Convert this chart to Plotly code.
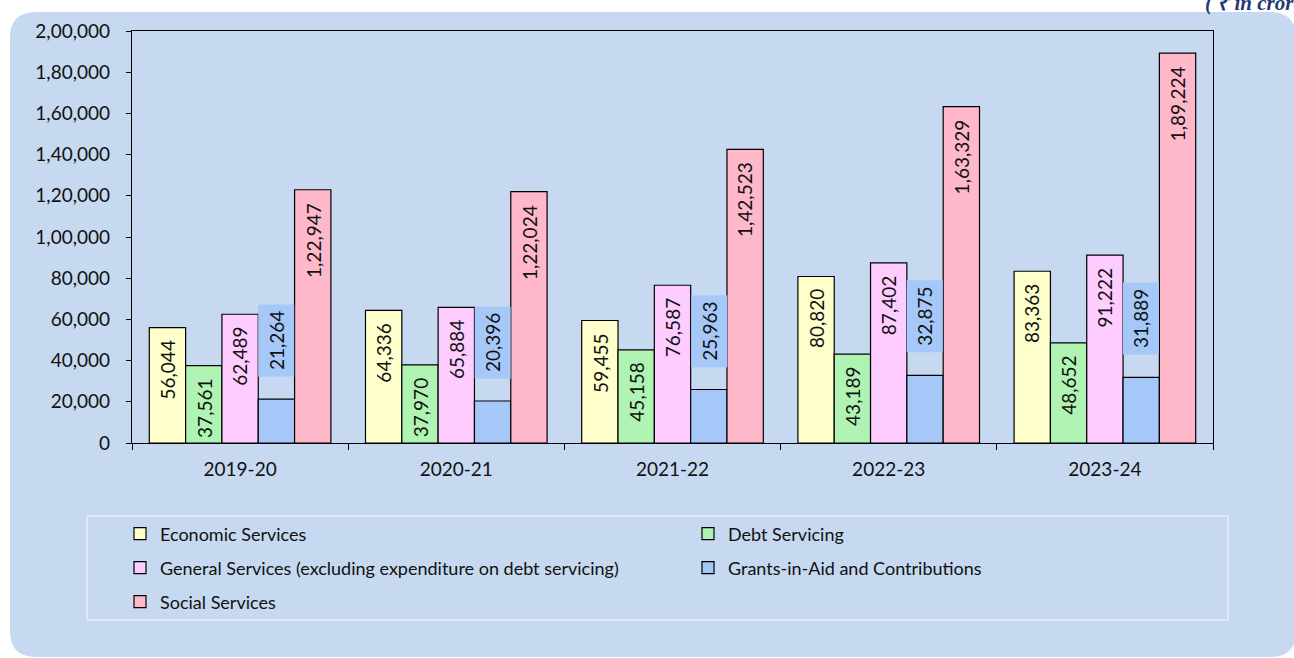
import plotly.graph_objects as go

# ---------------- data ----------------
years = ["2019-20", "2020-21", "2021-22", "2022-23", "2023-24"]
economic = [56044, 64336, 59455, 80820, 83363]
debt = [37561, 37970, 45158, 43189, 48652]
general = [62489, 65884, 76587, 87402, 91222]
grants = [21264, 20396, 25963, 32875, 31889]
social = [122947, 122024, 142523, 163329, 189224]
series_names = [
    "Economic Services",
    "Debt Servicing",
    "General Services (excluding expenditure on debt servicing)",
    "Grants-in-Aid and Contributions",
    "Social Services",
]
y_tick_values = list(range(0, 200001, 20000))
unit_note = "( ₹ in crore)"

# ---------------- styling ----------------
W, H = 1294, 658
L, R, T, B = 132, 1213, 31, 443          # plot area in px
FONT = "Lato"
TXT = "#111111"
PANEL = "#C6D9F0"
colors = ["#FFFFCC", "#B0F4B4", "#FFCCFF", "#A6C8F8", "#FFB8CA"]
BARGAP = 0.16
legend_of = ["legend", "legend", "legend2", "legend2", "legend3"]


def indian(n):
    s = str(int(n))
    if len(s) <= 3:
        return s
    last3, rest = s[-3:], s[:-3]
    parts = []
    while len(rest) > 2:
        parts.insert(0, rest[-2:])
        rest = rest[:-2]
    if rest:
        parts.insert(0, rest)
    return ",".join(parts + [last3])


def xp(px):
    return (px - L) / (R - L)


def yp(py):
    return (B - py) / (B - T)


series = [economic, debt, general, grants, social]

fig = go.Figure()
for k, (name, vals) in enumerate(zip(series_names, series)):
    fig.add_trace(go.Bar(
        x=years, y=vals, name=name,
        marker=dict(color=colors[k], line=dict(color="black", width=1.2)),
        legend=legend_of[k],
        hoverinfo="skip",
    ))

# data labels
annotations = []
nser = len(series)
for k, vals in enumerate(series):
    off = (1 - BARGAP) * (-0.5 + (k + 0.5) / nser)
    for i, v in enumerate(vals):
        if k == 3:
            annotations.append(dict(
                x=i + off, y=v, xref="x", yref="y", text=indian(v),
                showarrow=False, textangle=-90, yanchor="bottom", xanchor="center",
                yshift=22, bgcolor=colors[3], borderpad=6,
                font=dict(family=FONT, size=19, color=TXT)))
        else:
            annotations.append(dict(
                x=i + off, y=v, xref="x", yref="y", text=indian(v),
                showarrow=False, textangle=-90, yanchor="top", xanchor="center",
                yshift=-11,
                font=dict(family=FONT, size=19, color=TXT)))

annotations.append(dict(
    x=xp(1204), y=yp(16), xref="paper", yref="paper", text=unit_note,
    showarrow=False, xanchor="left", yanchor="bottom", borderpad=0,
    font=dict(family="Liberation Serif", size=21, color="#1F3A73",
              weight="bold", style="italic")))


def rounded_rect(x0, y0, x1, y1, r):
    # px coords -> paper path
    def P(x, y):
        return f"{xp(x):.5f},{yp(y):.5f}"
    return (f"M {P(x0 + r, y0)} L {P(x1 - r, y0)} Q {P(x1, y0)} {P(x1, y0 + r)} "
            f"L {P(x1, y1 - r)} Q {P(x1, y1)} {P(x1 - r, y1)} "
            f"L {P(x0 + r, y1)} Q {P(x0, y1)} {P(x0, y1 - r)} "
            f"L {P(x0, y0 + r)} Q {P(x0, y0)} {P(x0 + r, y0)} Z")


shapes = [
    dict(type="path", xref="paper", yref="paper", path=rounded_rect(10, 12, 1296, 657, 26),
         fillcolor=PANEL, line=dict(width=0), layer="below"),
    dict(type="rect", xref="paper", yref="paper", x0=xp(87), x1=xp(1228), y0=yp(516), y1=yp(620),
         fillcolor="rgba(0,0,0,0)", line=dict(color="rgba(255,255,255,0.85)", width=1), layer="below"),
]

leg_common = dict(orientation="h", xanchor="left", yanchor="middle", bgcolor="rgba(0,0,0,0)",
                  borderwidth=0, font=dict(family=FONT, size=18, color=TXT),
                  entrywidth=523, entrywidthmode="pixels", itemclick=False, itemdoubleclick=False,
                  traceorder="normal")
lx = xp(120)

fig.update_layout(
    width=W, height=H,
    margin=dict(l=L, r=W - R, t=T, b=H - B, pad=0),
    paper_bgcolor="white", plot_bgcolor="rgba(0,0,0,0)",
    barmode="group", bargap=BARGAP, bargroupgap=0,
    font=dict(family=FONT, size=19, color=TXT),
    showlegend=True,
    legend=dict(leg_common, x=lx, y=yp(534)),
    legend2=dict(leg_common, x=lx, y=yp(568)),
    legend3=dict(leg_common, x=lx, y=yp(602)),
    annotations=annotations,
    shapes=shapes,
    xaxis=dict(type="category", showline=True, linecolor="black", linewidth=1.2, mirror=True,
               ticks="outside", tickson="boundaries", ticklen=6, tickcolor="black", tickwidth=1.2,
               showgrid=False, tickfont=dict(family=FONT, size=19, color=TXT),
               ticklabelstandoff=9),
    yaxis=dict(range=[0, 200000], tickvals=y_tick_values,
               ticktext=[indian(v) for v in y_tick_values],
               showline=True, linecolor="black", linewidth=1.2, mirror=True,
               ticks="outside", ticklen=5, tickcolor="black", tickwidth=1.2,
               showgrid=False, zeroline=False, tickfont=dict(family=FONT, size=19, color=TXT),
               ticklabelstandoff=12),
)

fig.write_html("out.html")
